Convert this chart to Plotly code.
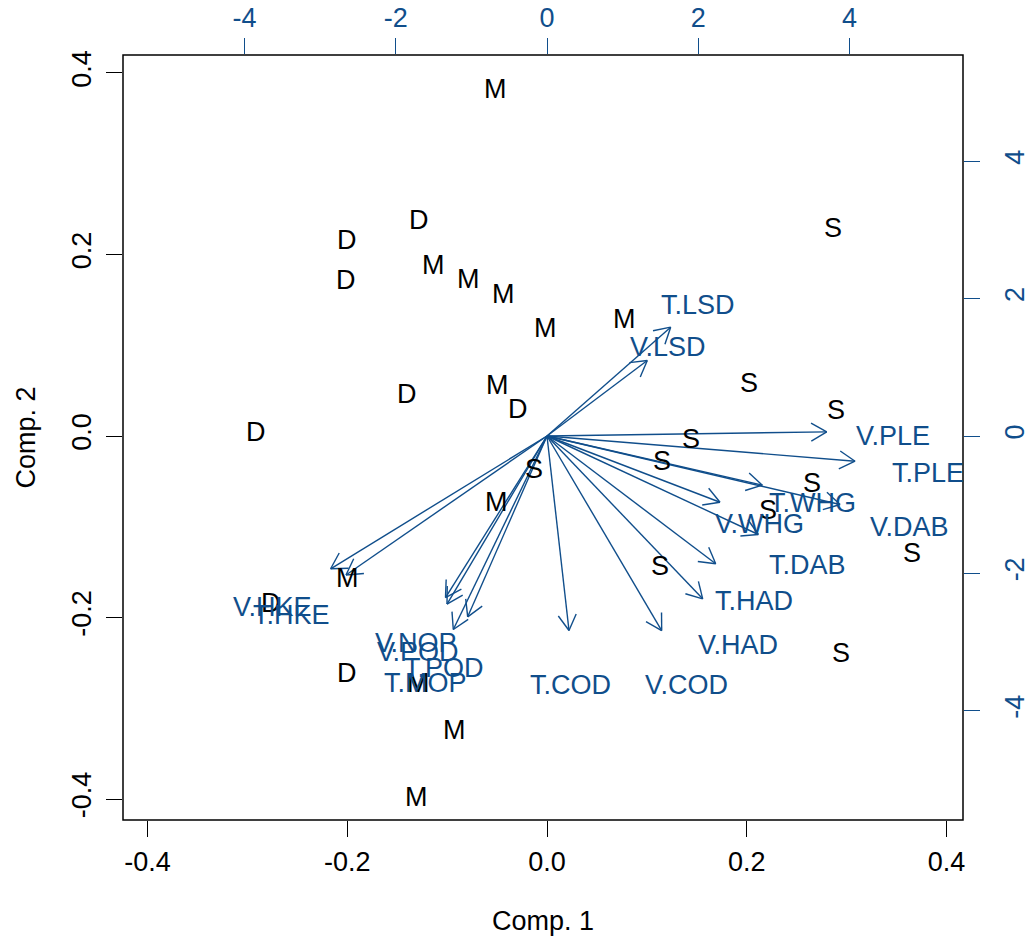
import math
import plotly.graph_objects as go

# ---------------- data ----------------
score_labels = ["M", "D", "D", "D", "M", "M", "M", "M", "M", "S", "D", "M", "D", "D", "S", "S",
                "S", "S", "S", "M", "S", "S", "S", "S", "M", "D", "D", "M", "M", "M", "S"]
score_x = [-0.0514, -0.1279, -0.2000, -0.2016, -0.1138, -0.0788, -0.0438, -0.0020, 0.0774, 0.2864,
           -0.1405, -0.0494, -0.0293, -0.2917, 0.2026, 0.2894, 0.1439, 0.1149, -0.0127, -0.0504,
           0.2653, 0.2213, 0.3652, 0.1131, -0.1996, -0.2764, -0.2003, -0.1289, -0.0931, -0.1305, 0.2944]
score_y = [0.3826, 0.2386, 0.2165, 0.1725, 0.1890, 0.1732, 0.1570, 0.1192, 0.1291, 0.2298,
           0.0468, 0.0567, 0.0300, 0.0046, 0.0586, 0.0292, -0.0031, -0.0270, -0.0361, -0.0718,
           -0.0516, -0.0810, -0.1280, -0.1427, -0.1563, -0.1838, -0.2609, -0.2713, -0.3234, -0.3976, -0.2382]

load_labels = ["T.LSD", "V.LSD", "V.PLE", "T.PLE", "T.WHG", "V.DAB", "V.WHG", "T.DAB", "T.HAD",
               "V.HAD", "V.COD", "T.COD", "V.HKE", "T.HKE", "V.NOP", "V.POD", "T.POD", "T.MOP"]
load_x = [2.045, 1.658, 4.625, 5.093, 3.560, 4.845, 2.860, 3.494, 2.789,
          2.574, 1.896, 0.364, -3.577, -3.323, -1.678, -1.653, -1.311, -1.549]
load_y = [1.980, 1.374, 0.076, -0.459, -0.895, -1.246, -1.205, -1.792, -2.325,
          -2.962, -3.539, -3.539, -2.416, -2.529, -2.939, -3.057, -3.290, -3.521]

score_ticks = [-0.4, -0.2, 0.0, 0.2, 0.4]
score_ticktext = ["-0.4", "-0.2", "0.0", "0.2", "0.4"]
load_ticks = [-4, -2, 0, 2, 4]
load_ticktext = ["-4", "-2", "0", "2", "4"]

x_title = "Comp. 1"
y_title = "Comp. 2"

# ---------------- style ----------------
FONT = "Liberation Sans, Arial, Helvetica, sans-serif"
FS = 27
BLUE = "#104E8B"
W, H = 1030, 944
ML, MR, MT, MB = 123, 67, 55, 124
PW, PH = W - ML - MR, H - MT - MB

XR = [-0.4245, 0.4165]
YR = [-0.4231, 0.4198]
RATIO = 13.21
X2R = [v * RATIO for v in XR]
Y2R = [v * RATIO for v in YR]

sx = PW / (X2R[1] - X2R[0])   # px per loading unit
sy = PH / (Y2R[1] - Y2R[0])

# arrows: shafts + open heads (R arrows, angle 30, fixed pixel length)
HEAD = 18.0
ANG = math.radians(30)
ax_, ay_ = [], []
for lx, ly in zip(load_x, load_y):
    tx, ty = 0.8 * lx, 0.8 * ly
    ax_ += [0, tx, None]
    ay_ += [0, ty, None]
    th = math.atan2(ty * sy, tx * sx)
    for s in (1, -1):
        ex = tx - HEAD * math.cos(th + s * ANG) / sx
        ey = ty - HEAD * math.sin(th + s * ANG) / sy
        ax_ += [tx, ex, None]
        ay_ += [ty, ey, None]

fig = go.Figure()
fig.add_trace(go.Scatter(x=ax_, y=ay_, mode="lines", xaxis="x2", yaxis="y2",
                         line=dict(color=BLUE, width=1.4), hoverinfo="skip"))

annotations = []
for lab, sxv, syv in zip(score_labels, score_x, score_y):
    annotations.append(dict(x=sxv, y=syv, xref="x", yref="y", text=lab, showarrow=False,
                            xanchor="center", yanchor="middle", yshift=-0.5,
                            font=dict(family=FONT, size=FS, color="black")))
for lab, lx, ly in zip(load_labels, load_x, load_y):
    annotations.append(dict(x=lx, y=ly, xref="x2", yref="y2", text=lab, showarrow=False,
                            xanchor="center", yanchor="middle", xshift=-4, yshift=-5.5,
                            font=dict(family=FONT, size=FS, color=BLUE)))
annotations.append(dict(x=0.5, y=0, xref="paper", yref="paper", text=x_title, showarrow=False,
                        xanchor="center", yanchor="middle", yshift=-101,
                        font=dict(family=FONT, size=FS, color="black")))
annotations.append(dict(x=0, y=0.5, xref="paper", yref="paper", text=y_title, showarrow=False,
                        xanchor="center", yanchor="middle", xshift=-98, textangle=-90,
                        font=dict(family=FONT, size=FS, color="black")))

common = dict(showgrid=False, zeroline=False, showline=False, ticks="outside", ticklen=16,
              tickwidth=1.3, automargin=False)

fig.update_layout(
    width=W, height=H, margin=dict(l=ML, r=MR, t=MT, b=MB, pad=0),
    plot_bgcolor="white", paper_bgcolor="white", showlegend=False,
    font=dict(family=FONT, size=FS, color="black"),
    xaxis=dict(range=XR, tickvals=score_ticks, ticktext=score_ticktext, tickcolor="black",
               tickfont=dict(family=FONT, size=FS, color="black"), ticklabelstandoff=2, **common),
    yaxis=dict(range=YR, tickvals=score_ticks, ticktext=score_ticktext, tickcolor="black",
               tickangle=-90, tickfont=dict(family=FONT, size=FS, color="black"),
               ticklabelstandoff=4, **common),
    xaxis2=dict(range=X2R, overlaying="x", side="top", anchor="y", tickvals=load_ticks,
                ticktext=load_ticktext, tickcolor=BLUE,
                tickfont=dict(family=FONT, size=FS, color=BLUE), ticklabelstandoff=0, **common),
    yaxis2=dict(range=Y2R, overlaying="y", side="right", anchor="x", tickvals=load_ticks,
                ticktext=load_ticktext, tickcolor=BLUE, tickangle=-90,
                tickfont=dict(family=FONT, size=FS, color=BLUE), ticklabelstandoff=12, **common),
    annotations=annotations,
    shapes=[dict(type="rect", xref="paper", yref="paper", x0=0, x1=1, y0=0, y1=1,
                 line=dict(color="black", width=1.5), layer="above")],
)

fig.write_html("out.html")
